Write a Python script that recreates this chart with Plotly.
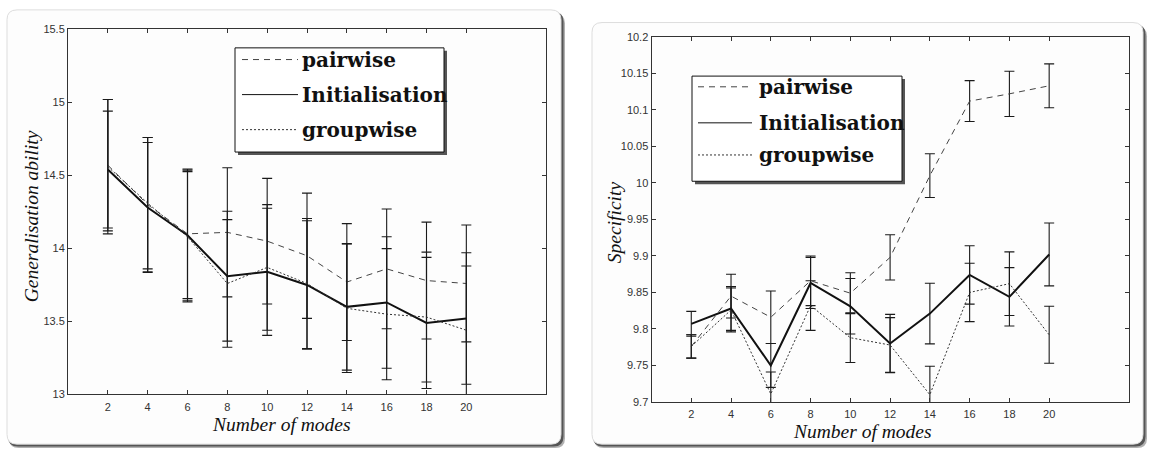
import plotly.graph_objects as go

W, H = 1151, 455

# ---------------- data ----------------
modes = [2, 4, 6, 8, 10, 12, 14, 16, 18, 20]

gen_pairwise = [14.57, 14.30, 14.10, 14.11, 14.05, 13.95, 13.77, 13.86, 13.78, 13.76]
gen_pairwise_err = [0.45, 0.46, 0.443, 0.442, 0.43, 0.429, 0.40, 0.41, 0.40, 0.40]
gen_init = [14.54, 14.28, 14.09, 13.81, 13.84, 13.75, 13.60, 13.63, 13.49, 13.52]
gen_init_err = [0.40, 0.445, 0.445, 0.445, 0.435, 0.44, 0.433, 0.45, 0.449, 0.45]
gen_group = [14.56, 14.31, 14.08, 13.76, 13.87, 13.76, 13.59, 13.55, 13.53, 13.44]
gen_group_err = [0.46, 0.45, 0.446, 0.437, 0.43, 0.445, 0.44, 0.449, 0.445, 0.44]

spec_pairwise = [9.776, 9.845, 9.816, 9.866, 9.849, 9.898, 10.010, 10.112, 10.122, 10.133]
spec_pairwise_err = [0.016, 0.030, 0.036, 0.034, 0.028, 0.031, 0.030, 0.028, 0.031, 0.030]
spec_init = [9.807, 9.828, 9.750, 9.863, 9.831, 9.780, 9.821, 9.874, 9.844, 9.902]
spec_init_err = [0.017, 0.030, 0.030, 0.035, 0.038, 0.040, 0.0415, 0.040, 0.040, 0.043]
spec_group = [9.776, 9.826, 9.711, 9.832, 9.788, 9.778, 9.710, 9.850, 9.862, 9.792]
spec_group_err = [0.016, 0.030, 0.030, 0.034, 0.034, 0.0375, 0.039, 0.040, 0.0435, 0.039]

series_names = ["pairwise", "Initialisation", "groupwise"]
gen_ticks = [13, 13.5, 14, 14.5, 15, 15.5]
gen_ticklabels = ["13", "13.5", "14", "14.5", "15", "15.5"]
spec_ticks = [9.7, 9.75, 9.8, 9.85, 9.9, 9.95, 10.0, 10.05, 10.1, 10.15, 10.2]
spec_ticklabels = ["9.7", "9.75", "9.8", "9.85", "9.9", "9.95", "10", "10.05", "10.1", "10.15", "10.2"]

# ---------------- helpers ----------------
def X(px):
    return px / W

def Y(py):
    return 1 - py / H

def rrect(x0, y0, x1, y1, r):
    p = (f"M {X(x0+r)},{Y(y0)} L {X(x1-r)},{Y(y0)} Q {X(x1)},{Y(y0)} {X(x1)},{Y(y0+r)} "
         f"L {X(x1)},{Y(y1-r)} Q {X(x1)},{Y(y1)} {X(x1-r)},{Y(y1)} "
         f"L {X(x0+r)},{Y(y1)} Q {X(x0)},{Y(y1)} {X(x0)},{Y(y1-r)} "
         f"L {X(x0)},{Y(y0+r)} Q {X(x0)},{Y(y0)} {X(x0+r)},{Y(y0)} Z")
    return p

styles = [
    dict(color="#444444", width=1, dash="6px,5px"),
    dict(color="#111111", width=2, dash="solid"),
    dict(color="#333333", width=1, dash="2px,2px"),
]

fig = go.Figure()

panels = [
    dict(xa="x", ya="y", data=[(gen_pairwise, gen_pairwise_err), (gen_init, gen_init_err), (gen_group, gen_group_err)]),
    dict(xa="x2", ya="y2", data=[(spec_pairwise, spec_pairwise_err), (spec_init, spec_init_err), (spec_group, spec_group_err)]),
]

for p in panels:
    for name, (vals, errs), st in zip(series_names, p["data"], styles):
        fig.add_trace(go.Scatter(
            x=modes, y=vals, mode="lines", name=name, showlegend=False,
            line=st, xaxis=p["xa"], yaxis=p["ya"],
            error_y=dict(type="data", array=errs, visible=True, color="#1a1a1a",
                         thickness=1.1, width=5),
        ))

# plot areas in px
L_area = (68, 24, 546, 399)
R_area = (651.5, 31.7, 1128.7, 406.7)

axis_common = dict(showline=True, linecolor="#333333", linewidth=1, mirror="ticks",
                   ticks="inside", ticklen=4, tickcolor="#333333", showgrid=False,
                   zeroline=False, tickfont=dict(family="Liberation Sans, Arial", size=11, color="#333333"))

fig.update_layout(
    width=W, height=H, margin=dict(l=0, r=0, t=0, b=0),
    paper_bgcolor="white", plot_bgcolor="white", showlegend=False,
    xaxis=dict(domain=[X(L_area[0]), X(L_area[2])], range=[0, 24], tickvals=modes,
               anchor="y", ticklabelstandoff=2, **axis_common),
    yaxis=dict(domain=[Y(L_area[3]), Y(L_area[1])], range=[13, 15.5], tickvals=gen_ticks,
               ticktext=gen_ticklabels, anchor="x", **axis_common),
    xaxis2=dict(domain=[X(R_area[0]), X(R_area[2])], range=[0, 24], tickvals=modes,
                anchor="y2", ticklabelstandoff=2, **axis_common),
    yaxis2=dict(domain=[Y(R_area[3]), Y(R_area[1])], range=[9.7, 10.2], tickvals=spec_ticks,
                ticktext=spec_ticklabels, anchor="x2", **axis_common),
)

shapes = []
# cards with shadows
for (x0, y0, x1, y1) in [(7, 4, 561, 450), (592, 17, 1143, 450)]:
    shapes.append(dict(type="path", xref="paper", yref="paper", layer="below",
                       path=rrect(x0 + 2, y0 + 4, x1 + 4, y1 + 4, 10),
                       fillcolor="#b0b0b0", line=dict(width=0)))
    shapes.append(dict(type="path", xref="paper", yref="paper", layer="below",
                       path=rrect(x0 + 1, y0 + 2, x1 + 2.5, y1 + 2.5, 10),
                       fillcolor="#555555", line=dict(width=0)))
    shapes.append(dict(type="path", xref="paper", yref="paper", layer="below",
                       path=rrect(x0, y0, x1, y1, 10),
                       fillcolor="#fdfdfd", line=dict(color="#dddddd", width=1)))

# legends
legends = [
    dict(box=(235, 43, 444, 150), lx=(242, 298), ys=[55, 91, 127], tx=300),
    dict(box=(692, 72, 902, 180), lx=(698, 752), ys=[83, 120, 153], tx=757),
]
annotations = []
for lg in legends:
    bx0, by0, bx1, by1 = lg["box"]
    shapes.append(dict(type="rect", xref="paper", yref="paper", layer="above",
                       x0=X(bx0 + 3), x1=X(bx1 + 3), y0=Y(by1 + 3), y1=Y(by0 + 3),
                       fillcolor="#555555", line=dict(width=0)))
    shapes.append(dict(type="rect", xref="paper", yref="paper", layer="above",
                       x0=X(bx0), x1=X(bx1), y0=Y(by1), y1=Y(by0),
                       fillcolor="white", line=dict(color="#111111", width=1)))
    for name, st, yy in zip(series_names, styles, lg["ys"]):
        shapes.append(dict(type="line", xref="paper", yref="paper", layer="above",
                           x0=X(lg["lx"][0]), x1=X(lg["lx"][1]), y0=Y(yy), y1=Y(yy),
                           line=dict(color=st["color"], width=1, dash=st["dash"])))
        annotations.append(dict(xref="paper", yref="paper", x=X(lg["tx"]), y=Y(yy),
                                xanchor="left", yanchor="middle", showarrow=False,
                                text=f"<b>{name}</b>",
                                font=dict(family="DejaVu Serif", size=20, color="#111111")))

title_font = dict(family="Liberation Serif", size=19.5, color="#111111")
annotations += [
    dict(xref="paper", yref="paper", x=X(281), y=Y(430), xanchor="center", yanchor="middle",
         showarrow=False, text="<i>Number of modes</i>", font=title_font),
    dict(xref="paper", yref="paper", x=X(862), y=Y(437), xanchor="center", yanchor="middle",
         showarrow=False, text="<i>Number of modes</i>", font=title_font),
    dict(xref="paper", yref="paper", x=X(31), y=Y(216), xanchor="center", yanchor="middle",
         showarrow=False, textangle=-90, text="<i>Generalisation ability</i>", font=title_font),
    dict(xref="paper", yref="paper", x=X(614), y=Y(222), xanchor="center", yanchor="middle",
         showarrow=False, textangle=-90, text="<i>Specificity</i>", font=title_font),
]

fig.update_layout(shapes=shapes, annotations=annotations)
fig.write_html("out.html", config={"displayModeBar": False},
               post_script="document.body.style.margin='0px';document.body.style.overflow='hidden';")
